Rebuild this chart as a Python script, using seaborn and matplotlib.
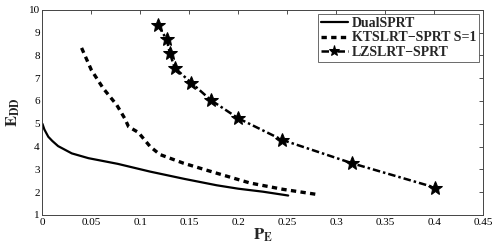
import matplotlib
matplotlib.use("Agg")
import matplotlib.pyplot as plt
import seaborn as sns
import pandas as pd

dual_pe = [0.0, 0.002, 0.006, 0.010, 0.016, 0.030, 0.047, 0.077, 0.110, 0.145, 0.178, 0.200, 0.225, 0.251]
dual_edd = [5.0, 4.75, 4.43, 4.25, 4.02, 3.70, 3.49, 3.24, 2.90, 2.58, 2.30, 2.15, 2.02, 1.85]

kts_pe = [0.040, 0.050, 0.062, 0.076, 0.084, 0.088, 0.098, 0.110, 0.120, 0.144, 0.178, 0.212, 0.246, 0.280]
kts_edd = [8.33, 7.36, 6.56, 5.82, 5.24, 4.87, 4.62, 4.00, 3.65, 3.27, 2.83, 2.40, 2.12, 1.90]

lz_pe = [0.118, 0.127, 0.130, 0.135, 0.152, 0.172, 0.200, 0.245, 0.316, 0.401]
lz_edd = [9.33, 8.70, 8.12, 7.46, 6.80, 6.04, 5.24, 4.29, 3.27, 2.20]

labels = ["DualSPRT", "KTSLRT\u2212SPRT S=1", "LZSLRT\u2212SPRT"]
xticks = [0, 0.05, 0.1, 0.15, 0.2, 0.25, 0.3, 0.35, 0.4, 0.45]
xticklabels = ["0", "0.05", "0.1", "0.15", "0.2", "0.25", "0.3", "0.35", "0.4", "0.45"]
yticks = list(range(1, 11))

sns.set_style("white")
plt.rcParams["font.family"] = ["Liberation Serif", "DejaVu Serif"]
plt.rcParams["mathtext.fontset"] = "stix"

fig = plt.figure(figsize=(4.99, 2.47), dpi=100)
ax = fig.add_axes([0.085, 0.130, 0.883, 0.830])

d1 = pd.DataFrame({"pe": dual_pe, "edd": dual_edd})
d2 = pd.DataFrame({"pe": kts_pe, "edd": kts_edd})
d3 = pd.DataFrame({"pe": lz_pe, "edd": lz_edd})

sns.lineplot(data=d1, x="pe", y="edd", ax=ax, color="black", lw=1.6,
             label=labels[0], sort=False)
sns.lineplot(data=d2, x="pe", y="edd", ax=ax, color="black", lw=2.4,
             label=labels[1], sort=False, dashes=False)
ax.lines[-1].set_dashes((1.6, 1.3))
sns.lineplot(data=d3, x="pe", y="edd", ax=ax, color="black", lw=1.8,
             label=labels[2], sort=False, marker="*", markersize=10,
             markeredgecolor="black", markerfacecolor="black")
ax.lines[-1].set_dashes((3.0, 1.2, 1.0, 1.2))

ax.set_xlim(0, 0.45)
ax.set_ylim(1, 10)
ax.set_xticks(xticks)
ax.set_xticklabels(xticklabels)
ax.set_yticks(yticks)
ax.tick_params(direction="in", length=3, width=0.6, labelsize=8, top=True, right=True,
               colors="#333333", labelcolor="black", pad=2)
for s in ax.spines.values():
    s.set_linewidth(0.7)
    s.set_color("#444444")

ax.set_xlabel(r"$\mathbf{P_E}$", fontsize=12, labelpad=0)
ax.set_ylabel(r"$\mathbf{E_{DD}}$", fontsize=12, labelpad=5)

leg = ax.legend(loc="upper right", prop={"family": "Liberation Serif", "weight": "bold", "size": 10},
                frameon=True, fancybox=False, edgecolor="#444444", borderpad=0.2,
                labelspacing=0.12, handlelength=1.9, handletextpad=0.3, borderaxespad=0.3,
                markerscale=0.8)
leg.get_frame().set_linewidth(0.7)

fig.savefig("out.png", dpi=100)
